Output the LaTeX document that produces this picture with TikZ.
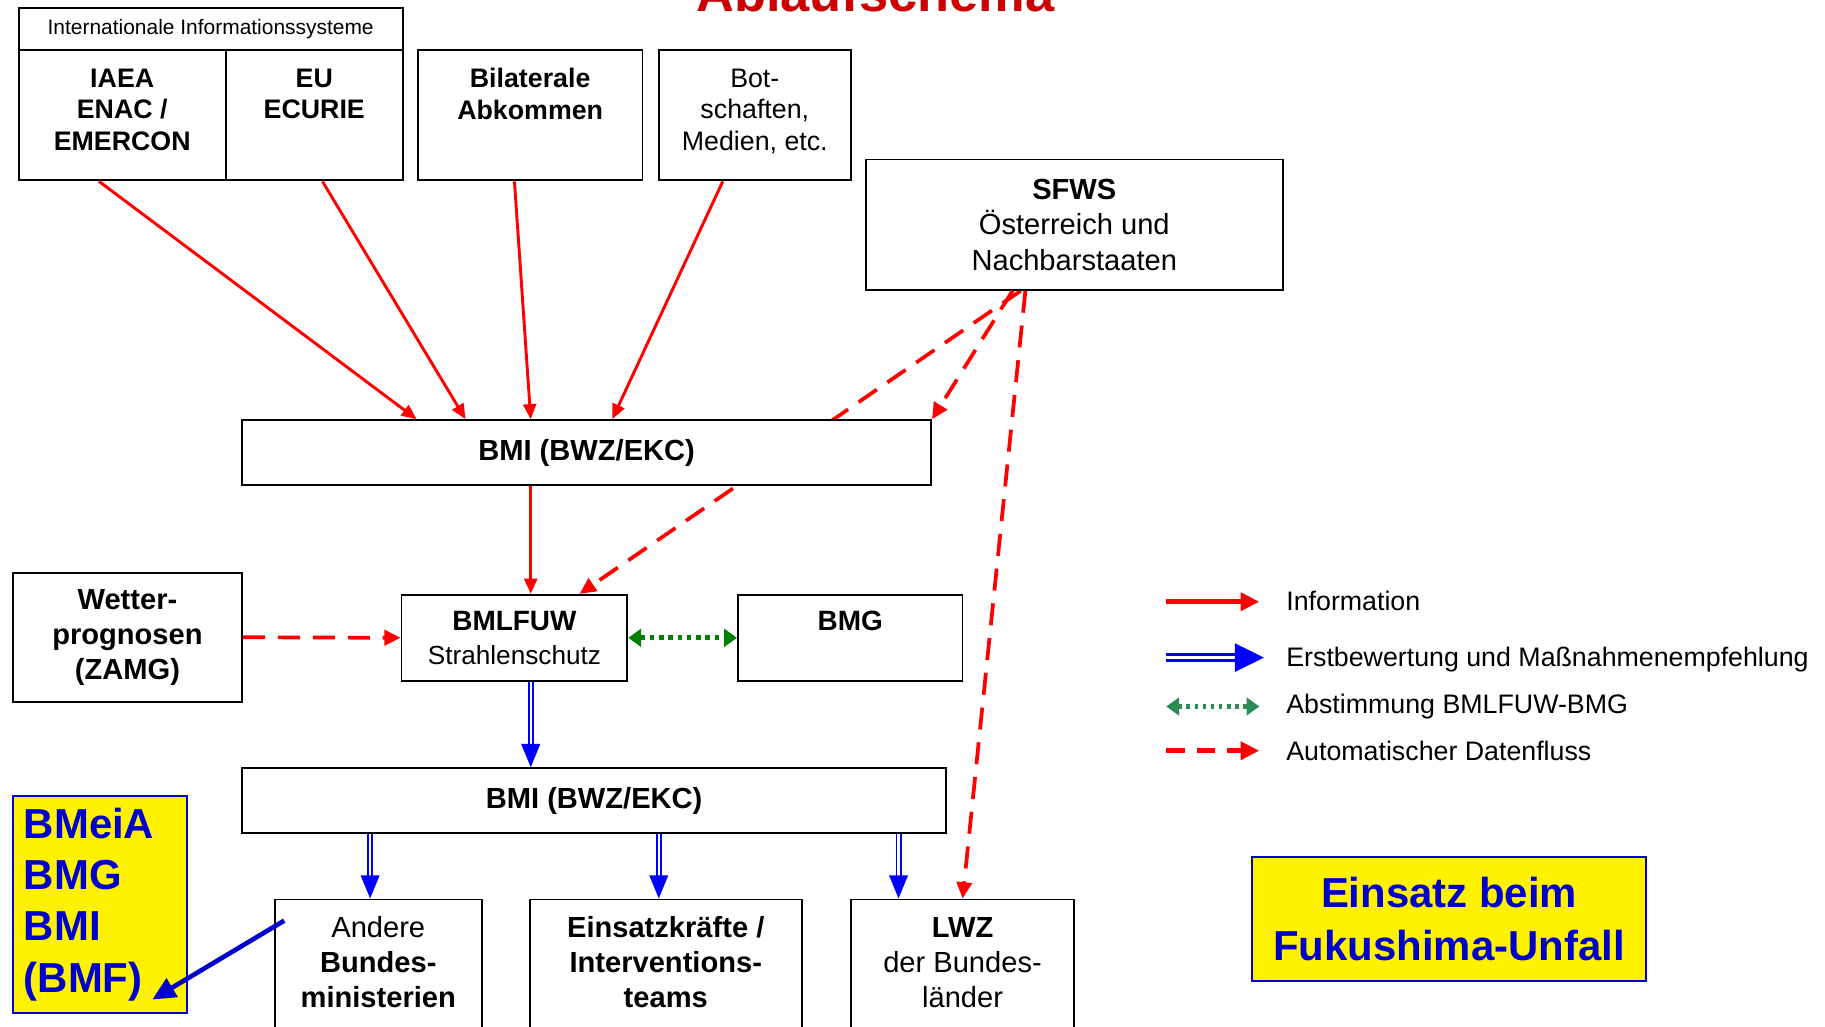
\documentclass[tikz,border=0pt]{standalone}
\usepackage{fontspec}
\setmainfont{Liberation Sans}
\usetikzlibrary{arrows.meta}
\usetikzlibrary{backgrounds}
\definecolor{titlered}{RGB}{204,0,0}
\definecolor{infored}{RGB}{255,0,0}
\definecolor{darkblue}{RGB}{0,0,204}
\definecolor{seagreen}{RGB}{46,139,87}

\begin{document}
\begin{tikzpicture}[x=1pt, y=-1pt]

\tikzstyle{every node}=[font=\fontsize{23}{27}\selectfont, inner sep=0pt]
\tikzstyle{box}=[draw, fill=white, line width=1.6pt, align=center]
\tikzstyle{infoline}=[draw=infored, line width=2.5pt, -{Triangle[length=13pt, width=11pt]}]
\tikzstyle{datenline}=[draw=infored, line width=3.2pt, dash pattern=on 19pt off 11pt, -{Triangle[length=14pt, width=13pt]}]
\tikzstyle{erstline}=[draw=blue, double=white, line width=1.6pt, double distance=2pt, -{Triangle[length=20pt, width=16pt]}]
\tikzstyle{abstline}=[draw=green!50!black, line width=4pt, dash pattern=on 4pt off 4pt, {Triangle[length=11pt, width=15pt]}-{Triangle[length=11pt, width=15pt]}]
\tikzstyle{hinweis}=[draw=darkblue, line width=4pt, -{Triangle[length=20pt, width=18pt]}]
\tikzstyle{yellowbox}=[draw=darkblue, fill=yellow, line width=1.6pt, text=darkblue, font=\bfseries\fontsize{36}{44}\selectfont]

\useasboundingbox (0,0) rectangle (1568,882);

\node (title) at (752,10) [anchor=base, text=titlered, font=\bfseries\fontsize{45}{54}\selectfont] {Ablaufschema};

% Informationsquellen
\node (intl) at (181,25) [box, minimum width=330, minimum height=36, font=\fontsize{18}{22}\selectfont] {Internationale Informationssysteme};
\node (iaea) at (105,99) [box, minimum width=178, minimum height=112, text depth=10pt, font=\bfseries\fontsize{23}{27}\selectfont] {IAEA\\ENAC /\\EMERCON};
\node (eu) at (270,99) [box, minimum width=152, minimum height=112, text depth=10pt, font=\bfseries\fontsize{23}{27}\selectfont] {EU\\ECURIE\\\mbox{}};
\node (bilat) at (455.5,99) [box, minimum width=193, minimum height=112, text depth=10pt, font=\bfseries\fontsize{23}{27}\selectfont] {Bilaterale\\Abkommen\\\mbox{}};
\node (bot) at (648.5,99) [box, minimum width=165, minimum height=112, text depth=10pt] {Bot-\\schaften,\\Medien, etc.};
\node (sfws) at (923,193) [box, minimum width=358, minimum height=112, font=\fontsize{25}{30.5}\selectfont] {\textbf{SFWS}\\Österreich und\\Nachbarstaaten};

\node (bmi) at (504,389) [box, minimum width=592, minimum height=56, font=\bfseries\fontsize{25}{30}\selectfont] {BMI (BWZ/EKC)};
\node (wetter) at (109.5,547.5) [box, minimum width=197, minimum height=111, font=\bfseries\fontsize{25}{30}\selectfont] {Wetter-\\prognosen\\(ZAMG)};
\node (bmlfuw) at (442,548) [box, minimum width=194, minimum height=74, font=\fontsize{24}{29}\selectfont] {\textbf{BMLFUW}\\{\fontsize{22.5}{29}\selectfont Strahlenschutz}};
\node (bmg) at (730.5,548) [box, minimum width=193, minimum height=74, font=\bfseries\fontsize{24}{29}\selectfont] {BMG\\\mbox{}};
\node (bmiz) at (510.5,688) [box, minimum width=605, minimum height=56, font=\bfseries\fontsize{25}{30}\selectfont] {BMI (BWZ/EKC)};

\node (andere) at (325,772) [box, anchor=north, minimum width=178, minimum height=138, font=\fontsize{25}{30}\selectfont] {Andere\\\textbf{Bundes-}\\\textbf{ministerien}\\\mbox{}};
\node (einsatz) at (572,772) [box, anchor=north, minimum width=234, minimum height=138, font=\bfseries\fontsize{25}{30}\selectfont] {Einsatzkräfte /\\Interventions-\\teams\\\mbox{}};
\node (lwz) at (827,772) [box, anchor=north, minimum width=192, minimum height=138, font=\fontsize{25}{30}\selectfont] {\textbf{LWZ}\\der Bundes-\\länder\\\mbox{}};

\node (bmeia) at (86,777) [yellowbox, minimum width=150, minimum height=186, text width=131, inner xsep=9.5pt, align=left] {BMeiA\\BMG\\BMI\\(BMF)};
\node (einsatzbox) at (1245,789.5) [yellowbox, minimum width=338, minimum height=107, align=center, font=\bfseries\fontsize{36}{45}\selectfont] {Einsatz beim\\Fukushima-Unfall};

% Pfeile
\draw[infoline] ([xshift=-20]iaea.south) -- ([xshift=-146]bmi.north);
\draw[infoline] ([xshift=7]eu.south) -- ([xshift=-104]bmi.north);
\draw[infoline] ([xshift=-13.5]bilat.south) -- ([xshift=-48]bmi.north);
\draw[infoline] ([xshift=-27.5]bot.south) -- ([xshift=22]bmi.north);
\draw[infoline] ([xshift=-48]bmi.south) -- ([xshift=14]bmlfuw.north);

\begin{scope}[on background layer]
\draw[datenline] ([xshift=-46]sfws.south) -- ([xshift=56]bmlfuw.north);
\end{scope}
\draw[datenline] ([xshift=-53]sfws.south) -- (bmi.north east);
\draw[datenline] ([xshift=-42]sfws.south) -- (lwz.north);
\draw[datenline] (wetter.east) -- (bmlfuw.west);

\draw[abstline] (bmlfuw.east) -- (bmg.west);

\draw[erstline] ([xshift=14]bmlfuw.south) -- ([xshift=-54.5]bmiz.north);
\draw[erstline] ([xshift=-192.5]bmiz.south) -- ([xshift=-7]andere.north);
\draw[erstline] ([xshift=55.5]bmiz.south) -- ([xshift=-6]einsatz.north);
\draw[erstline] ([xshift=261.5]bmiz.south) -- ([xshift=-55]lwz.north);

\draw[hinweis] ([xshift=9, yshift=-19]andere.north west) -- ([xshift=-31, yshift=12]bmeia.south east);

% Legende
\coordinate (infoA) at (1002,517);
\coordinate (infoB) at (1082,517);
\coordinate (erstA) at (1002,565);
\coordinate (erstB) at (1086,565);
\coordinate (abstA) at (1002,607);
\coordinate (abstB) at (1082,607);
\coordinate (datenA) at (1002,645);
\coordinate (datenB) at (1082,645);

\draw[infoline, line width=4pt, -{Triangle[length=16pt, width=15pt]}] (infoA) -- (infoB);
\draw[erstline, line width=2.5pt, double distance=3pt, -{Triangle[length=25pt, width=24pt]}] (erstA) -- (erstB);
\draw[abstline, draw=seagreen, line width=3.5pt, dash pattern=on 3pt off 4pt] (abstA) -- (abstB);
\draw[datenline, line width=4pt, dash pattern=on 16pt off 10pt, -{Triangle[length=16pt, width=15pt]}] (datenA) -- (datenB);

\node (infotext) at (1105,516) [anchor=west] {Information};
\node (ersttext) at (1105,567) [anchor=west] {Erstbewertung und Maßnahmenempfehlung};
\node (absttext) at (1105,607) [anchor=west] {Abstimmung BMLFUW-BMG};
\node (datentext) at (1105,645) [anchor=west] {Automatischer Datenfluss};

\end{tikzpicture}
\end{document}
